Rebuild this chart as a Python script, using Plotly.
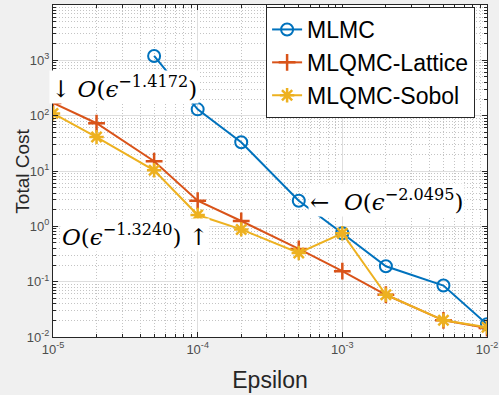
import plotly.graph_objects as go

eps_mlmc = [5e-5, 1e-4, 2e-4, 5e-4, 1e-3, 2e-3, 5e-3, 1e-2]
cost_mlmc = [1200, 130, 33, 2.9, 0.75, 0.19, 0.085, 0.017]

eps_qmc = [1e-5, 2e-5, 5e-5, 1e-4, 2e-4, 5e-4, 1e-3, 2e-3, 5e-3, 1e-2]
cost_lattice = [170, 73, 15, 2.9, 1.25, 0.39, 0.155, 0.058, 0.02, 0.0145]
cost_sobol = [110, 41, 10.3, 1.6, 0.88, 0.33, 0.75, 0.058, 0.02, 0.015]

x_ticks = [1e-5, 1e-4, 1e-3, 1e-2]
x_labels = ['10<sup>-5</sup>', '10<sup>-4</sup>', '10<sup>-3</sup>', '10<sup>-2</sup>']
y_ticks = [1e-2, 1e-1, 1e0, 1e1, 1e2, 1e3, 1e4]
y_labels = ['10<sup>-2</sup>', '10<sup>-1</sup>', '10<sup>0</sup>', '10<sup>1</sup>',
            '10<sup>2</sup>', '10<sup>3</sup>', '10<sup>4</sup>']

blue, red, yellow = '#0072BD', '#D95319', '#EDB120'

fig = go.Figure()
fig.add_trace(go.Scatter(x=eps_mlmc, y=cost_mlmc, name='MLMC', mode='lines+markers',
                         line=dict(color=blue, width=2),
                         marker=dict(symbol='circle-open', size=12, line=dict(width=2, color=blue))))
fig.add_trace(go.Scatter(x=eps_qmc, y=cost_lattice, name='MLQMC-Lattice', mode='lines+markers',
                         line=dict(color=red, width=2),
                         marker=dict(symbol='cross-thin-open', size=12, line=dict(width=2.5, color=red))))
fig.add_trace(go.Scatter(x=eps_qmc, y=cost_sobol, name='MLQMC-Sobol', mode='lines+markers',
                         line=dict(color=yellow, width=2),
                         marker=dict(symbol='asterisk-open', size=12, line=dict(width=2.5, color=yellow))))

ann_font = dict(family='DejaVu Serif', size=23, color='black')
fig.add_annotation(x=-5, y=2.52, xanchor='left', yanchor='middle', showarrow=False,
                   text='↓ <i>O</i>(<i>ϵ</i><sup>−1.4172</sup>)', font=ann_font,
                   bgcolor='white', xshift=-4)
fig.add_annotation(x=-3.24, y=0.47, xanchor='left', yanchor='middle', showarrow=False,
                   text='←  <i>O</i>(<i>ϵ</i><sup>−2.0495</sup>)', font=ann_font,
                   bgcolor='white')
fig.add_annotation(x=-3.94, y=-0.16, xanchor='right', yanchor='middle', showarrow=False,
                   text='<i>O</i>(<i>ϵ</i><sup>−1.3240</sup>) ↑', font=ann_font,
                   bgcolor='white', xshift=4)

# y title as a free annotation so it sits near the figure edge like the original
fig.add_annotation(xref='paper', yref='paper', x=-0.101, y=0.5, textangle=-90,
                   showarrow=False, text='Total Cost',
                   font=dict(family='Arial', size=19, color='#262626'))

axis_common = dict(type='log', showline=True, mirror='ticks', automargin=False,
                   linecolor='#262626', linewidth=1, ticks='inside', ticklen=5,
                   tickcolor='#262626', showgrid=True, gridcolor='#dedede', gridwidth=1,
                   tickfont=dict(family='Arial', size=13, color='#4d4d4d'),
                   minor=dict(dtick='D1', ticks='inside', ticklen=3, tickcolor='#262626',
                              showgrid=True, gridcolor='#c4c4c4', griddash='1px,2px', gridwidth=1),
                   zeroline=False)

fig.update_xaxes(range=[-5, -2], tickvals=x_ticks, ticktext=x_labels,
                 title=dict(text='Epsilon', font=dict(family='Arial', size=23, color='#262626'), standoff=16),
                 **axis_common)
fig.update_yaxes(range=[-2, 4], tickvals=y_ticks, ticktext=y_labels, **axis_common)

fig.update_layout(
    width=499, height=395,
    margin=dict(l=53, r=12, t=5, b=58),
    paper_bgcolor='#f0f0f0', plot_bgcolor='white',
    showlegend=True,
    legend=dict(x=0.491, y=0.994, xanchor='left', yanchor='top', bgcolor='white',
                bordercolor='#262626', borderwidth=1,
                font=dict(family='Arial', size=23, color='black'),
                itemwidth=30, tracegroupgap=0),
)

fig.write_html("out.html", config={'displayModeBar': False},
               post_script="document.body.style.margin='0';")
